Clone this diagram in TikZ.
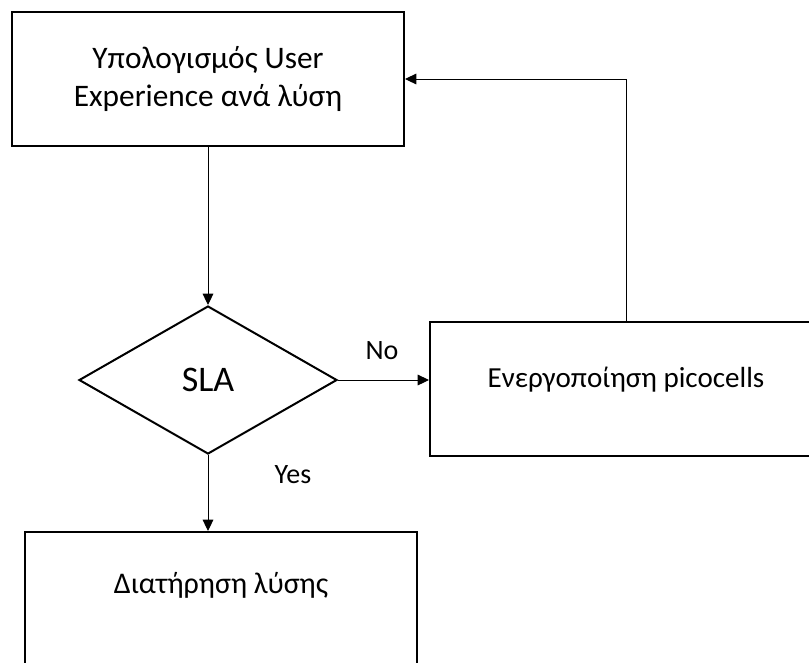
\documentclass[tikz,border=0pt]{standalone}
\usepackage{fontspec}
\setmainfont{Carlito}
\usetikzlibrary{shapes.geometric,arrows.meta}

\begin{document}
\begin{tikzpicture}[x=0.75pt,y=0.75pt,yscale=-1,xscale=1,
  proc/.style={draw,line width=1.5pt,minimum width=294pt,minimum height=100.5pt,inner sep=0pt,align=center,font=\fontsize{22.5}{28.5}\selectfont},
  dec/.style={draw,diamond,line width=1.5pt,minimum width=193.5pt,minimum height=111pt,inner sep=0pt,font=\fontsize{27}{32}\selectfont},
  flow/.style={line width=0.75pt,-{Triangle[length=8.5pt,width=8pt]}},
  lbl/.style={font=\fontsize{21}{25}\selectfont}]
%set diagram size 809 x 662, boxes cut at the edges
\useasboundingbox (0,0) rectangle (809,662);
\clip (0,0) rectangle (809,662);

%Shape: Rectangle
\node[proc,font=\fontsize{23.5}{28.5}\selectfont] (calc) at (208,79) {Υπολογισμός User\\Experience ανά λύση};
%Shape: Diamond
\node[dec] (sla) at (208,380) {SLA};
%Shape: Rectangle
\node[proc,font=\fontsize{21.8}{28.5}\selectfont,text height=16pt,text depth=18pt] (pico) at (626,388.5) {Ενεργοποίηση picocells};
%Shape: Rectangle
\node[proc,text height=16pt,text depth=24pt] (keep) at (221,599) {Διατήρηση λύσης};

%Straight Lines
\draw[flow] (calc.south) -- (sla.north);
%Straight Lines
\draw[flow] (sla.east) -- (sla.east -| pico.west);
%Straight Lines
\draw[flow] (sla.south) -- (sla.south |- keep.north);
%Straight Lines
\draw[flow] (pico.north) |- (calc.east);

% Text Node
\node[lbl] (no) at (382,351) {No};
% Text Node
\node[lbl] (yes) at (293,475) {Yes};

\end{tikzpicture}
\end{document}
